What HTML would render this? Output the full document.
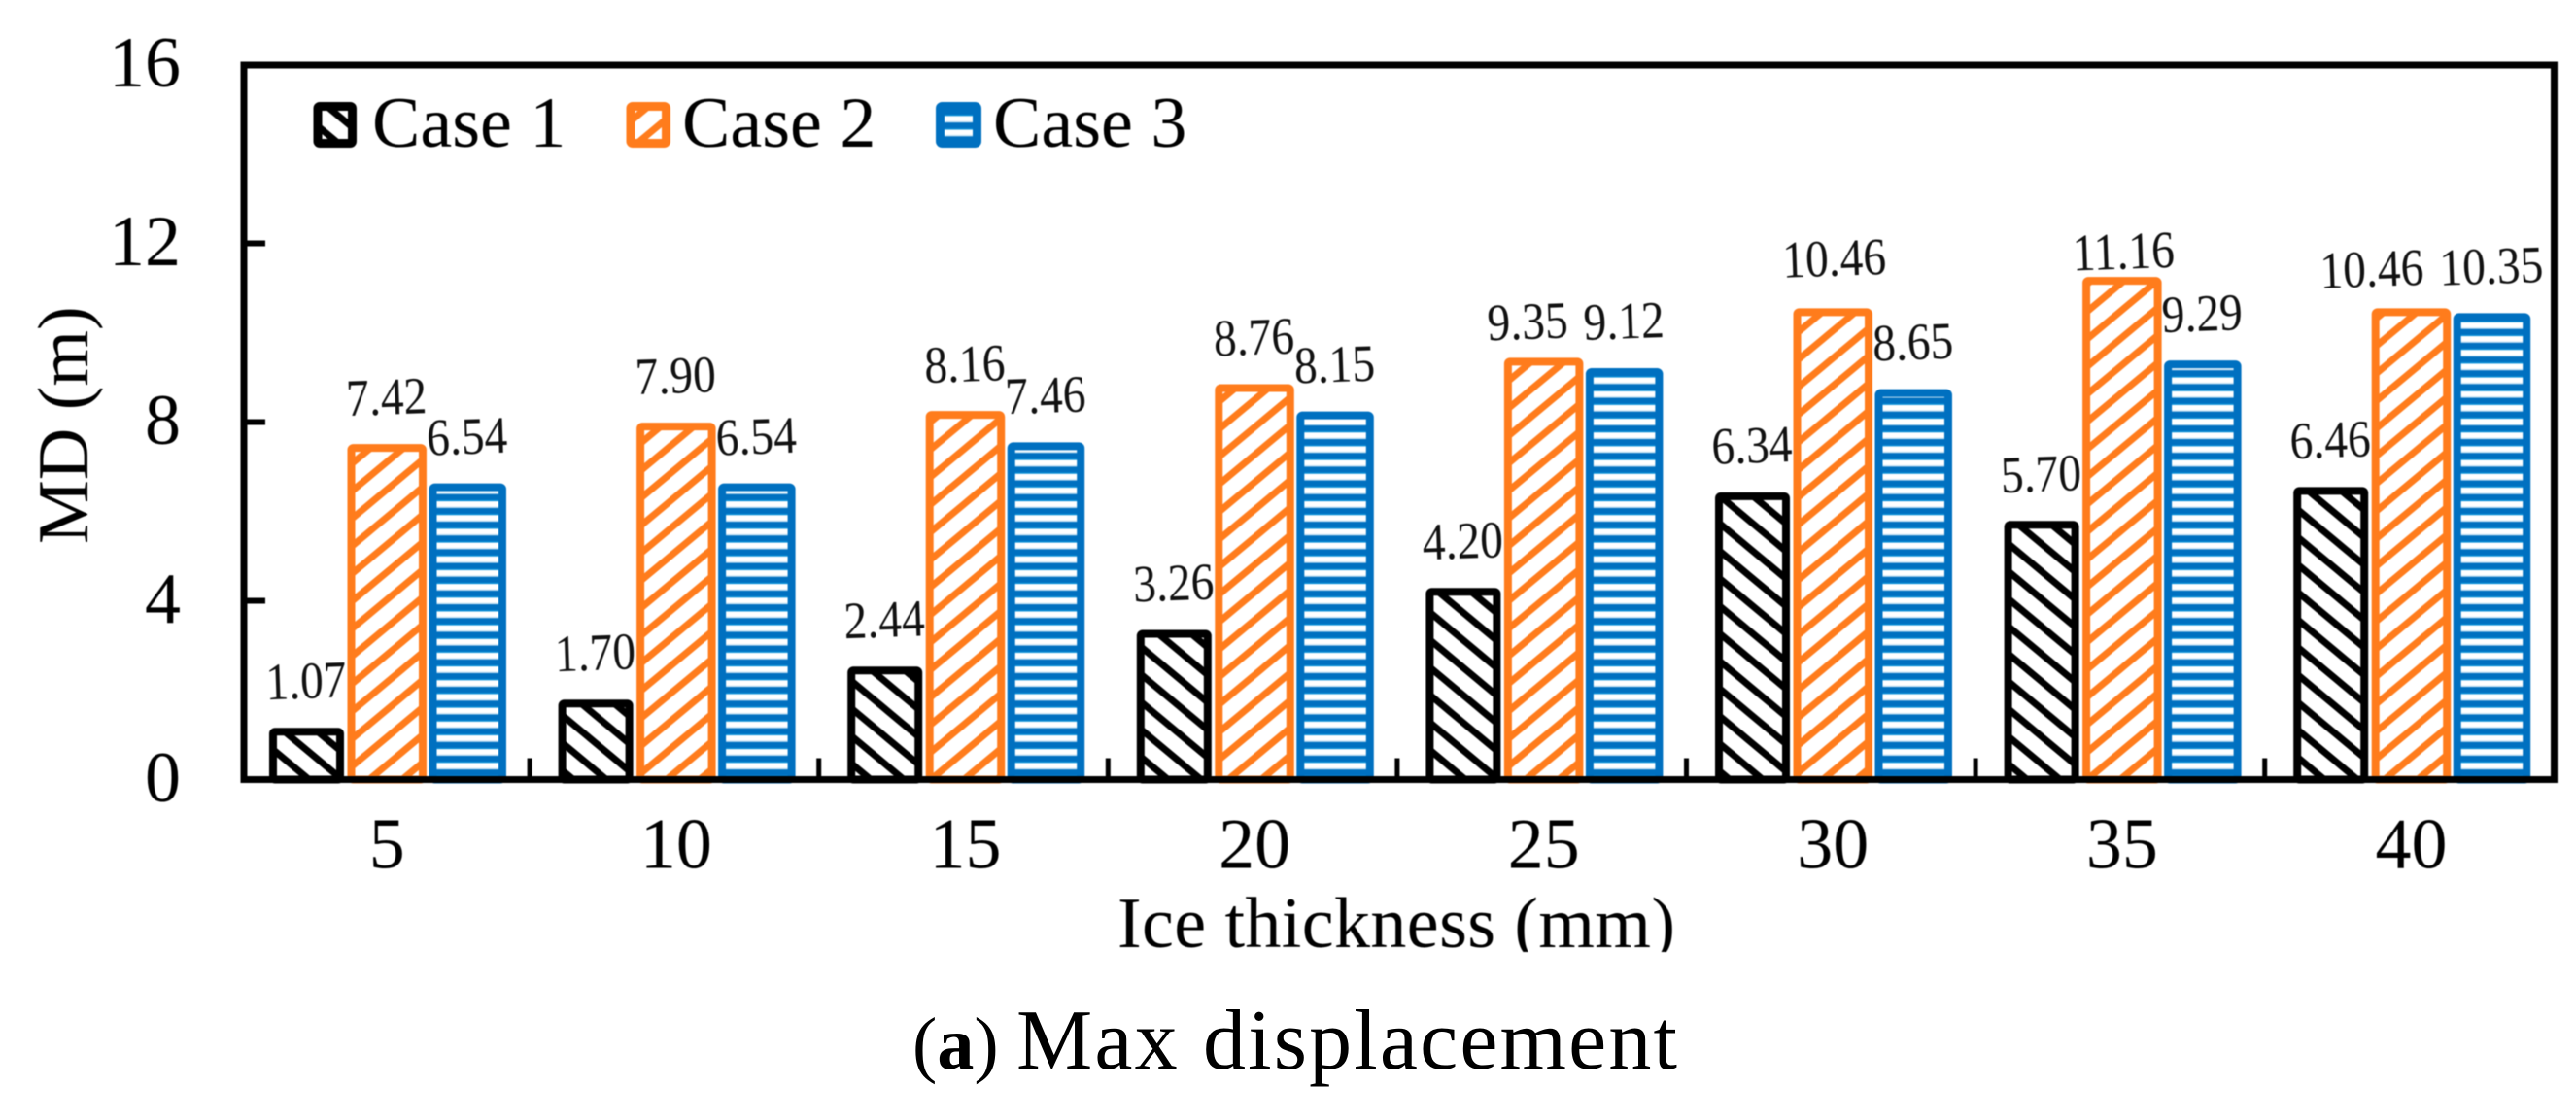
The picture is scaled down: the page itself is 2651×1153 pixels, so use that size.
<!DOCTYPE html>
<html lang="en">
<head>
<meta charset="utf-8">
<title>Max displacement</title>
<style>
  html, body { margin: 0; padding: 0; background: #fff; }
  svg { display: block; }
  text { font-family: "Liberation Serif", serif; fill: #000; }
  #chart-layer { filter: blur(0.6px); }
</style>
</head>
<body>
<svg id="chart" xmlns="http://www.w3.org/2000/svg" width="2651" height="1153" viewBox="0 0 2651 1153">
  <defs>
    <pattern id="hatch-black" patternUnits="userSpaceOnUse" width="34" height="28.34" patternTransform="translate(2068 617.4)">
      <rect width="34" height="28.34" fill="#fff"/>
      <g stroke="#000" stroke-width="7">
        <line x1="-17" y1="-14.17" x2="51" y2="42.51"/>
        <line x1="-17" y1="-42.51" x2="51" y2="14.17"/>
        <line x1="-17" y1="14.17" x2="51" y2="70.85"/>
      </g>
    </pattern>
    <pattern id="hatch-orange" patternUnits="userSpaceOnUse" width="34" height="28.34" patternTransform="translate(2150 602.4)">
      <rect width="34" height="28.34" fill="#fff"/>
      <g stroke="#ff7c1c" stroke-width="7">
        <line x1="-17" y1="42.51" x2="51" y2="-14.17"/>
        <line x1="-17" y1="14.17" x2="51" y2="-42.51"/>
        <line x1="-17" y1="70.85" x2="51" y2="14.17"/>
      </g>
    </pattern>
    <pattern id="hatch-blue" patternUnits="userSpaceOnUse" width="20" height="14.17">
      <rect width="20" height="14.17" fill="#0070c0"/>
      <rect y="4.6" width="20" height="1.8" fill="#0a90d8"/>
      <rect y="6" width="20" height="6" fill="#fff"/>
      <rect y="11.4" width="20" height="1.4" fill="#c6e2f4"/>
    </pattern>
    <clipPath id="x-title-clip"><rect x="1100" y="900" width="700" height="80"/></clipPath>
  </defs>
  <rect width="2651" height="1153" fill="#fff"/>
  <g id="chart-layer">
    <g id="bars"></g>
    <g id="data-labels"></g>
    <g id="axes"></g>
    <g id="legend">
      <g>
        <rect x="327" y="109.5" width="35.5" height="38" fill="url(#hatch-black)" stroke="#000" stroke-width="9" rx="2"/>
        <text x="383" y="151" font-size="74">Case 1</text>
      </g>
      <g>
        <rect x="649" y="109.5" width="36.5" height="38" fill="url(#hatch-orange)" stroke="#ff7c1c" stroke-width="9" rx="2"/>
        <text x="702" y="151" font-size="74">Case 2</text>
      </g>
      <g>
        <rect x="967.5" y="109.5" width="38" height="38" fill="url(#hatch-blue)" stroke="#0070c0" stroke-width="9" rx="2"/>
        <text x="1022" y="151" font-size="74">Case 3</text>
      </g>
    </g>
    <text transform="translate(90 560) rotate(-90)" font-size="74">MD (m)</text>
    <text x="1150" y="975" font-size="74" textLength="574" clip-path="url(#x-title-clip)">Ice thickness (mm)</text>
  </g>
  <g>
    <text x="939" y="1100" font-size="76">(<tspan font-weight="bold">a</tspan>)</text>
    <text x="1046" y="1100" font-size="88" textLength="680">Max displacement</text>
  </g>
</svg>
<script>
const categories = ["5", "10", "15", "20", "25", "30", "35", "40"];
const case1Values = [1.07, 1.70, 2.44, 3.26, 4.20, 6.34, 5.70, 6.46];
const case2Values = [7.42, 7.90, 8.16, 8.76, 9.35, 10.46, 11.16, 10.46];
const case3Values = [6.54, 6.54, 7.46, 8.15, 9.12, 8.65, 9.29, 10.35];
const yTickLabels = [0, 4, 8, 12, 16];

const SVG_NS = "http://www.w3.org/2000/svg";
const AXIS_LEFT = 251, AXIS_RIGHT = 2628, AXIS_TOP = 66.5, AXIS_BOTTOM = 802.5;
const FIRST_BAND = 247.5, BAND_WIDTH = 297.6, Y_MAX = 16;

function xBand(i) { return FIRST_BAND + BAND_WIDTH * i; }
function yScale(v) { return AXIS_BOTTOM - (v / Y_MAX) * (AXIS_BOTTOM - AXIS_TOP); }

const seriesStyles = [
  { name: "case-1", values: case1Values, left: 29.5, right: 106.5, inset: 4, stroke: "#000", width: 8, fill: "url(#hatch-black)" },
  { name: "case-2", values: case2Values, left: 110, right: 191.5, inset: 4, stroke: "#ff7c1c", width: 8, fill: "url(#hatch-orange)" },
  { name: "case-3", values: case3Values, left: 194, right: 273.5, inset: 4, stroke: "#0070c0", width: 8, fill: "url(#hatch-blue)" }
];

/* Hand-placed label nudges seen in the figure: "series:category" -> [dx, dy] */
const labelNudges = { "1:4": [-16, 11], "1:5": [2, -3], "1:6": [2, 22], "1:7": [-40, 8] };

function make(tag, attrs, parent) {
  const el = document.createElementNS(SVG_NS, tag);
  for (const k in attrs) el.setAttribute(k, attrs[k]);
  parent.appendChild(el);
  return el;
}

const barsLayer = document.getElementById("bars");
const labelsLayer = document.getElementById("data-labels");
const axesLayer = document.getElementById("axes");

seriesStyles.forEach(function (s, si) {
  s.values.forEach(function (v, i) {
    const x0 = xBand(i) + s.left, x1 = xBand(i) + s.right;
    const top = yScale(v);
    const bar = make("rect", {
      x: x0 + s.inset, y: top, width: x1 - x0 - 2 * s.inset, height: AXIS_BOTTOM - top,
      fill: s.fill, stroke: s.stroke, "stroke-width": s.width, rx: 2
    }, barsLayer);
    
    

    const nudge = labelNudges[si + ":" + i] || [0, 0];
    const lx = (x0 + x1) / 2 + nudge[0];
    const ly = top - 34.5 + nudge[1];
    const label = make("text", {
      transform: "translate(" + lx + " " + ly + ") rotate(-2) scale(0.88 1)",
      "text-anchor": "middle", "font-size": 54, style: "fill:#111"
    }, labelsLayer);
    label.textContent = v.toFixed(2);
    
    
  });
});

const frame = make("rect", {
  x: AXIS_LEFT, y: AXIS_TOP + 0.5, width: AXIS_RIGHT - AXIS_LEFT + 0.5, height: AXIS_BOTTOM - AXIS_TOP - 0.5,
  fill: "none", stroke: "#000", "stroke-width": 7
}, axesLayer);



yTickLabels.forEach(function (t) {
  const y = yScale(t);
  if (t > 0 && t < Y_MAX) {
    const tick = make("line", { x1: AXIS_LEFT, x2: 273, y1: y, y2: y, stroke: "#000", "stroke-width": 6 }, axesLayer);
    
    
  }
  const label = make("text", { x: 186, y: y + 22.5, "text-anchor": "end", "font-size": 74 }, axesLayer);
  label.textContent = String(t);
  
  
});

categories.forEach(function (c, i) {
  if (i < categories.length - 1) {
    const x = xBand(i + 1);
    const tick = make("line", { x1: x, x2: x, y1: 780.5, y2: AXIS_BOTTOM, stroke: "#000", "stroke-width": 5 }, axesLayer);
    
    
  }
  const label = make("text", { x: xBand(i) + BAND_WIDTH / 2 + 2, y: 893.5, "text-anchor": "middle", "font-size": 74 }, axesLayer);
  label.textContent = c;
  
  
});
</script>
</body>
</html>
